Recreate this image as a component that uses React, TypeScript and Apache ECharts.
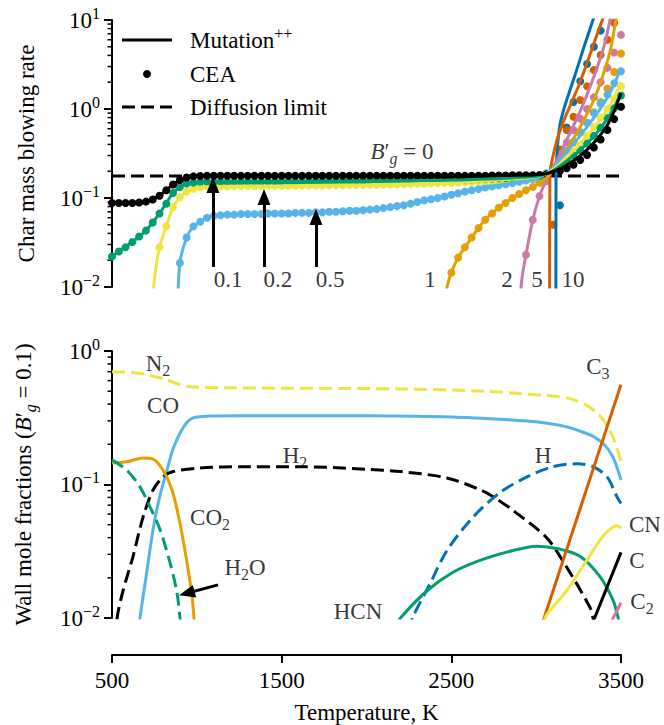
import React, { useEffect, useRef } from 'react';
import * as echarts from 'echarts';

const FONT = 'Liberation Serif';
const FS = 23;
const C_BLACK = '#000000';
const C_GREEN = '#009E73';
const C_YELLOW = '#F0E442';
const C_LBLUE = '#56B4E9';
const C_ORANGE = '#E69F00';
const C_PINK = '#CC79A7';
const C_VERM = '#D55E00';
const C_BLUE = '#0072B2';

const X_TICKS = [500, 1500, 2500, 3500];
const DIFF_LIMIT = 0.177;

// CEA temperature grid (K)
const CEA_T = [500,540,580,620,660,700,740,780,820,860,900,940,980,1020,1060,1100,1140,1180,1220,1260,1300,1340,1380,1420,1460,1500,1540,1580,1620,1660,1700,1740,1780,1820,1860,1900,1940,1980,2020,2060,2100,2140,2180,2220,2260,2300,2340,2380,2420,2460,2500,2540,2580,2620,2660,2700,2740,2780,2820,2860,2900,2940,2980,3020,3060,3100,3140,3180,3220,3260,3300,3340,3380,3420,3460,3500];

// CEA values aligned with CEA_T
const BLACK_CEA = [
  .088,.088,.088,.088,.089,.091,.096,.106,.122,.142,
  .159,.170,.175,.177,.178,.178,.178,.178,.178,.178,
  .178,.178,.178,.178,.178,.178,.178,.178,.178,.178,
  .178,.178,.178,.178,.178,.178,.178,.178,.178,.178,
  .178,.178,.178,.178,.178,.178,.178,.178,.178,.178,
  .178,.178,.178,.178,.178,.178,.179,.179,.179,.180,
  .180,.180,.180,.181,.183,.191,.201,.216,.236,.267,
  .304,.370,.455,.580,.770,1.06];
const GREEN_CEA = [
  .022,.025,.028,.032,.037,.043,.053,.067,.086,.114,
  .133,.145,.149,.151,.151,.151,.151,.151,.151,.151,
  .151,.151,.151,.152,.152,.152,.152,.152,.152,.152,
  .153,.153,.153,.153,.153,.154,.154,.154,.154,.155,
  .155,.155,.156,.156,.156,.157,.157,.158,.158,.159,
  .159,.160,.161,.162,.163,.164,.165,.166,.167,.168,
  .170,.172,.174,.176,.186,.205,.235,.265,.300,.345,
  .41,.50,.62,.79,1.02,1.42];
const YELLOW_CEA = [
  null,null,null,null,null,null,null,.028,.048,.079,
  .102,.118,.127,.133,.135,.135,.135,.135,.136,.136,
  .136,.136,.136,.137,.137,.137,.137,.137,.138,.138,
  .138,.138,.139,.139,.139,.140,.140,.140,.141,.141,
  .142,.142,.143,.143,.144,.145,.145,.146,.147,.148,
  .148,.149,.150,.152,.153,.155,.156,.158,.160,.162,
  .164,.167,.170,.174,.188,.210,.240,.280,.330,.400,
  .50,.63,.80,1.0,1.3,1.8];
const LBLUE_CEA = [
  null,null,null,null,null,null,null,null,null,null,
  .0186,.036,.048,.054,.060,.063,.064,.065,.065,.066,
  .066,.066,.066,.067,.067,.067,.067,.068,.068,.068,
  .069,.069,.070,.070,.071,.072,.072,.073,.074,.075,
  .077,.079,.081,.083,.086,.090,.094,.097,.100,.104,
  .109,.113,.118,.122,.126,.131,.135,.139,.143,.147,
  .152,.157,.162,.168,.190,.220,.270,.340,.430,.550,
  .70,.90,1.15,1.45,1.95,2.65];
const ORANGE_CEA = [[2500,.0145],[2540,.0214],[2580,.028],[2620,.036],[2660,.046],[2700,.057],[2740,.067],[2780,.078],[2820,.088],[2860,.100],[2900,.111],[2940,.122],[2980,.133],[3020,.148],[3060,.166],[3100,.20],[3140,.26],[3180,.33],[3220,.42],[3260,.54],[3300,.70],[3340,.92],[3380,1.2],[3420,1.7],[3460,2.6],[3500,4.2]];
const PINK_CEA = [[2940,.023],[2980,.057],[3020,.105],[3060,.155],[3100,.215],[3140,.30],[3180,.42],[3220,.58],[3260,.78],[3300,1.0],[3340,1.35],[3380,2.0],[3420,2.9],[3460,4.3],[3500,6.8]];
const VERM_CEA = [[3100,.05],[3140,.35],[3180,.58],[3220,.82],[3260,1.26],[3300,1.8],[3340,2.74],[3380,4.05],[3420,6.0],[3460,9.3]];
const BLUE_CEA = [[3140,.083],[3180,.62],[3220,1.2],[3260,2.05],[3300,3.2],[3340,5.0],[3380,7.6]];

// Mutation++ curves [T, value]
const BLACK_MPP = [[500,.088],[620,.088],[700,.091],[780,.106],[860,.142],[940,.170],[1020,.177],[1500,.178],[2600,.178],[2900,.180],[3000,.182],[3060,.188],[3120,.205],[3180,.235],[3240,.28],[3300,.35],[3360,.46],[3420,.66],[3460,.95],[3500,1.5]];
const GREEN_MPP = [[500,.022],[540,.025],[620,.032],[700,.043],[780,.067],[860,.114],[900,.133],[940,.145],[1020,.151],[1500,.152],[2000,.155],[2500,.159],[2800,.166],[2950,.172],[3020,.178],[3070,.19],[3120,.215],[3180,.26],[3240,.32],[3300,.41],[3360,.55],[3420,.78],[3460,1.05],[3500,1.5]];
const YELLOW_MPP = [[735,.005],[750,.012],[780,.028],[820,.048],[860,.079],[900,.102],[940,.118],[980,.127],[1020,.133],[1100,.135],[1500,.137],[2000,.141],[2500,.148],[2800,.16],[2950,.168],[3020,.176],[3070,.192],[3120,.225],[3180,.29],[3240,.37],[3300,.5],[3360,.68],[3420,.98],[3460,1.35],[3500,2.0]];
const LBLUE_MPP = [[885,.004],[900,.0186],[940,.036],[980,.048],[1020,.054],[1060,.060],[1100,.063],[1300,.066],[1500,.067],[1700,.069],[1900,.073],[2100,.077],[2300,.09],[2500,.109],[2700,.131],[2900,.152],[3020,.17],[3070,.195],[3120,.24],[3180,.33],[3240,.45],[3300,.63],[3360,.9],[3420,1.35],[3460,1.9],[3500,2.9]];
const ORANGE_MPP = [[2455,.006],[2475,.01],[2500,.0145],[2540,.0214],[2580,.028],[2620,.036],[2660,.046],[2700,.057],[2780,.078],[2860,.10],[2940,.122],[3020,.148],[3060,.168],[3100,.205],[3150,.28],[3200,.4],[3250,.58],[3300,.88],[3350,1.4],[3400,2.6],[3440,4.8],[3470,10],[3480,12]];
const PINK_MPP = [[2900,.005],[2915,.012],[2940,.023],[2980,.057],[3020,.105],[3060,.16],[3100,.22],[3140,.31],[3180,.45],[3220,.65],[3260,.95],[3300,1.45],[3340,2.3],[3380,3.8],[3410,6],[3435,10],[3445,12]];
const VERM_MPP = [[3079,.005],[3081,.17],[3086,.22],[3100,.3],[3130,.5],[3170,.8],[3210,1.2],[3252,1.86],[3300,3.3],[3345,5.8],[3390,10],[3400,11.5]];
const BLUE_MPP = [[3116,.005],[3117,.17],[3119,.23],[3126,.39],[3140,.66],[3160,.95],[3185,1.35],[3229,2.4],[3276,4.6],[3335,10],[3350,12]];

// Pressure labels (top panel)
const P_LABELS = [['0.1',1184],['0.2',1478],['0.5',1785],['1',2374],['2',2828],['5',3005],['10',3217]];
const P_LABEL_Y = 0.012;
// Arrows [T, tail value, head value]
const P_ARROWS = [[1095,.0168,.14],[1396,.0168,.1026],[1702,.0168,.0612]];

// Wall mole fractions (bottom panel) [T, x]
const N2_X = [[500,.70],[620,.69],[720,.66],[820,.61],[900,.56],[960,.54],[1200,.53],[2200,.52],[2700,.50],[2900,.48],[3100,.46],[3200,.44],[3300,.39],[3350,.35],[3400,.30],[3450,.23],[3480,.18],[3500,.15]];
const CO_X = [[655,.007],[665,.01],[700,.02],[742,.046],[780,.08],[824,.128],[860,.185],[901,.243],[940,.29],[977,.315],[1030,.323],[1078,.326],[1500,.328],[2000,.327],[2500,.32],[2863,.304],[3000,.295],[3181,.27],[3300,.24],[3335,.23],[3400,.2],[3453,.16],[3480,.13],[3500,.108]];
const H2_X = [[525,.007],[530,.01],[565,.016],[624,.029],[683,.057],[742,.091],[801,.114],[860,.125],[1019,.133],[1300,.136],[1608,.136],[2000,.13],[2200,.125],[2474,.112],[2680,.09],[2787,.075],[2863,.064],[3061,.04],[3180,.024],[3317,.012],[3335,.01],[3350,.008]];
const CO2_X = [[500,.145],[588,.148],[683,.158],[742,.155],[801,.128],[854,.091],[901,.051],[942,.026],[972,.0145],[983,.01],[995,.007]];
const H2O_X = [[500,.153],[588,.128],[665,.096],[724,.068],[783,.046],[842,.026],[883,.0155],[901,.01],[910,.008]];
const H_X = [[2250,.008],[2274,.0102],[2374,.018],[2474,.032],[2628,.057],[2787,.087],[2946,.114],[3099,.136],[3241,.143],[3335,.136],[3418,.114],[3476,.081],[3500,.072]];
const HCN_X = [[2180,.0088],[2200,.01],[2357,.016],[2510,.022],[2669,.027],[2863,.032],[3003,.0345],[3130,.033],[3258,.029],[3376,.0204],[3453,.0136],[3482,.0102],[3490,.009]];
const C3_X = [[3035,.009],[3500,.56]];
const CN_X = [[3045,.009],[3060,.0105],[3180,.016],[3298,.027],[3394,.041],[3453,.048],[3480,.049],[3500,.047]];
const C_X = [[3330,.009],[3500,.031]];
const C2_X = [[3445,.0095],[3500,.013]];

const SPECIES_LABELS = [
  ['{n|N}{sub|2}', 771, .813],
  ['{n|CO}', 801, .394],
  ['{n|H}{sub|2}', 1579, .166],
  ['{n|CO}{sub|2}', 1078, .057],
  ['{n|H}{sub|2}{n|O}', 1284, .0237],
  ['{n|HCN}', 1950, .0111],
  ['{n|H}', 3040, .166],
  ['{n|C}{sub|3}', 3364, .763],
  ['{n|CN}', 3641, .0499],
  ['{n|C}', 3594, .027],
  ['{n|C}{sub|2}', 3624, .0132],
];
const H2O_ARROW = [[1125, .0177], [941, .01533]];

const RICH: any = {
  n: { fontFamily: FONT, fontSize: FS, color: '#000', lineHeight: 30 },
  i: { fontFamily: FONT, fontSize: FS, fontStyle: 'italic', color: '#000', lineHeight: 30 },
  sub: { fontFamily: FONT, fontSize: 16, color: '#000', verticalAlign: 'bottom', lineHeight: 14 },
  subi: { fontFamily: FONT, fontSize: 16, fontStyle: 'italic', color: '#000', verticalAlign: 'bottom', lineHeight: 14 },
  sup: { fontFamily: FONT, fontSize: 16, color: '#000', verticalAlign: 'top', lineHeight: 14 },
};

const pow10 = (v: number) => {
  const e = Math.round(Math.log10(v));
  return `{n|10}{sup|${e < 0 ? '\u2212' : ''}${Math.abs(e)}}`;
};

const ceaPairs = (vals: (number | null)[]) =>
  CEA_T.map((t, i) => (vals[i] == null ? null : [t, vals[i]])).filter((p) => p !== null);

const TOP_CURVES = [
  { color: C_BLUE, mpp: BLUE_MPP, cea: BLUE_CEA },
  { color: C_VERM, mpp: VERM_MPP, cea: VERM_CEA },
  { color: C_PINK, mpp: PINK_MPP, cea: PINK_CEA },
  { color: C_ORANGE, mpp: ORANGE_MPP, cea: ORANGE_CEA },
  { color: C_LBLUE, mpp: LBLUE_MPP, cea: ceaPairs(LBLUE_CEA) },
  { color: C_YELLOW, mpp: YELLOW_MPP, cea: ceaPairs(YELLOW_CEA) },
  { color: C_GREEN, mpp: GREEN_MPP, cea: ceaPairs(GREEN_CEA) },
  { color: C_BLACK, mpp: BLACK_MPP, cea: ceaPairs(BLACK_CEA) },
];

const BOTTOM_CURVES = [
  { data: N2_X, color: C_YELLOW, dashed: true },
  { data: CO_X, color: C_LBLUE, dashed: false },
  { data: H2_X, color: C_BLACK, dashed: true },
  { data: CO2_X, color: C_ORANGE, dashed: false },
  { data: H2O_X, color: C_GREEN, dashed: true },
  { data: H_X, color: C_BLUE, dashed: true },
  { data: HCN_X, color: C_GREEN, dashed: false },
  { data: C3_X, color: C_VERM, dashed: false },
  { data: CN_X, color: C_YELLOW, dashed: false },
  { data: C_X, color: C_BLACK, dashed: false },
  { data: C2_X, color: C_PINK, dashed: false },
];

const LW = 3;
const DASH = [13, 6];

function buildOption(): any {
  const axisLine = { show: true, lineStyle: { color: '#000', width: 2 } };
  const axisTick = { show: true, length: 8, lineStyle: { color: '#000', width: 2 } };
  const nameTextStyle = { fontFamily: FONT, fontSize: FS, color: '#000', rich: RICH };

  const series: any[] = [];
  // diffusion limit + arrows
  series.push({
    type: 'line', xAxisIndex: 0, yAxisIndex: 0, silent: true, showSymbol: false,
    data: [[500, DIFF_LIMIT], [3500, DIFF_LIMIT]],
    lineStyle: { color: '#000', width: LW, type: DASH },
    markLine: {
      silent: true, symbol: ['none', 'triangle'], symbolSize: [13, 16],
      label: { show: false }, lineStyle: { color: '#000', width: LW, type: 'solid' },
      emphasis: { disabled: true },
      data: P_ARROWS.map(([t, a, b]) => [{ coord: [t, a] }, { coord: [t, b] }]),
    },
  });
  TOP_CURVES.forEach((c) => {
    series.push({
      type: 'line', xAxisIndex: 0, yAxisIndex: 0, silent: true, showSymbol: false,
      smooth: 0.3, data: c.mpp, lineStyle: { color: c.color, width: LW },
    });
  });
  TOP_CURVES.forEach((c) => {
    series.push({
      type: 'scatter', xAxisIndex: 0, yAxisIndex: 0, silent: true,
      symbolSize: 8, data: c.cea, itemStyle: { color: c.color, opacity: 1 },
    });
  });
  series.push({
    type: 'scatter', xAxisIndex: 0, yAxisIndex: 0, silent: true, clip: false,
    symbolSize: 1, itemStyle: { color: 'rgba(0,0,0,0)' },
    data: [
      ...P_LABELS.map(([txt, t]) => ({ value: [t, P_LABEL_Y], txt: `{n|${txt}}` })),
      { value: [2209, 0.329], txt: '{i|B}{n|\u2032}{subi|g}{n| = 0}' },
    ],
    label: { show: true, position: 'inside', formatter: (p: any) => p.data.txt, rich: RICH, color: '#000' },
  });

  BOTTOM_CURVES.forEach((c, idx) => {
    const s: any = {
      type: 'line', xAxisIndex: 1, yAxisIndex: 1, silent: true, showSymbol: false,
      smooth: 0.3, data: c.data,
      lineStyle: { color: c.color, width: LW, type: c.dashed ? DASH : 'solid' },
    };
    if (idx === 4) {
      s.markLine = {
        silent: true, symbol: ['none', 'triangle'], symbolSize: [13, 16],
        label: { show: false }, lineStyle: { color: '#000', width: LW, type: 'solid' },
        emphasis: { disabled: true },
        data: [[{ coord: H2O_ARROW[0] }, { coord: H2O_ARROW[1] }]],
      };
    }
    series.push(s);
  });
  series.push({
    type: 'scatter', xAxisIndex: 1, yAxisIndex: 1, silent: true, clip: false,
    symbolSize: 1, itemStyle: { color: 'rgba(0,0,0,0)' },
    data: SPECIES_LABELS.map(([txt, t, v]) => ({ value: [t, v], txt })),
    label: { show: true, position: 'inside', formatter: (p: any) => p.data.txt, rich: RICH, color: '#000' },
  });

  return {
    animation: false,
    backgroundColor: '#ffffff',
    textStyle: { fontFamily: FONT },
    grid: [
      { left: 112, top: 20, width: 509, height: 267, outerBoundsMode: 'none' },
      { left: 112, top: 351, width: 509, height: 267, outerBoundsMode: 'none' },
    ],
    xAxis: [
      { gridIndex: 0, type: 'value', min: 500, max: 3500, show: false },
      {
        gridIndex: 1, type: 'value', min: 500, max: 3500, offset: 37, position: 'bottom',
        axisLine, axisTick: { ...axisTick, customValues: X_TICKS },
        axisLabel: {
          customValues: X_TICKS, margin: 14, fontFamily: FONT, fontSize: FS, color: '#000',
          formatter: (v: number) => String(v),
        },
        splitLine: { show: false },
        name: 'Temperature, K', nameLocation: 'middle', nameGap: 46, nameTextStyle,
      },
    ],
    yAxis: [
      {
        gridIndex: 0, type: 'log', logBase: 10, min: 0.01, max: 10,
        axisLine, axisTick, splitLine: { show: false }, minorTick: { show: false },
        axisLabel: { formatter: pow10, rich: RICH, margin: 12, color: '#000' },
        name: 'Char mass blowing rate', nameLocation: 'middle', nameRotate: 90, nameGap: 74, nameTextStyle,
      },
      {
        gridIndex: 1, type: 'log', logBase: 10, min: 0.01, max: 1,
        axisLine, axisTick, splitLine: { show: false }, minorTick: { show: false },
        axisLabel: { formatter: pow10, rich: RICH, margin: 12, color: '#000' },
        name: '{n|Wall mole fractions (}{i|B}{n|\u2032}{subi|g}{n| = 0.1)}', nameLocation: 'middle',
        nameRotate: 90, nameGap: 74, nameTextStyle,
      },
    ],
    series,
  };
}

function legendGraphics(): any[] {
  const txt = (y: number, text: string) => ({
    type: 'text', x: 190, y, silent: true,
    style: { text, rich: RICH, align: 'left', verticalAlign: 'middle', fill: '#000', font: `${FS}px "${FONT}"` },
  });
  return [
    { type: 'line', silent: true, shape: { x1: 122, y1: 40, x2: 172, y2: 40 }, style: { stroke: '#000', lineWidth: LW } },
    txt(40, '{n|Mutation}{sup|++}'),
    { type: 'circle', silent: true, shape: { cx: 147, cy: 74, r: 4 }, style: { fill: '#000' } },
    txt(74, '{n|CEA}'),
    { type: 'line', silent: true, shape: { x1: 122, y1: 107, x2: 172, y2: 107 }, style: { stroke: '#000', lineWidth: LW, lineDash: DASH } },
    txt(107, '{n|Diffusion limit}'),
  ];
}

export default function App() {
  const ref = useRef<HTMLDivElement>(null);
  useEffect(() => {
    const chart = echarts.init(ref.current!, null, { renderer: 'svg' });
    chart.setOption(buildOption());
    const els: any[] = legendGraphics();
    const panels = [
      { ax: 0, decades: [-2, -1, 0] },
      { ax: 1, decades: [-2, -1] },
    ];
    panels.forEach((p) => {
      const x0 = chart.convertToPixel({ xAxisIndex: p.ax } as any, 500) as unknown as number;
      p.decades.forEach((d) => {
        for (let m = 2; m <= 9; m++) {
          const y = chart.convertToPixel({ yAxisIndex: p.ax } as any, m * Math.pow(10, d)) as unknown as number;
          els.push({
            type: 'line', silent: true,
            shape: { x1: x0 - 4.5, y1: y, x2: x0, y2: y },
            style: { stroke: '#000', lineWidth: 1.5 },
          });
        }
      });
    });
    chart.setOption({ graphic: els });
    return () => chart.dispose();
  }, []);
  return <div ref={ref} style={{ position: 'fixed', left: 0, top: 0, width: 664, height: 725 }} />;
}
